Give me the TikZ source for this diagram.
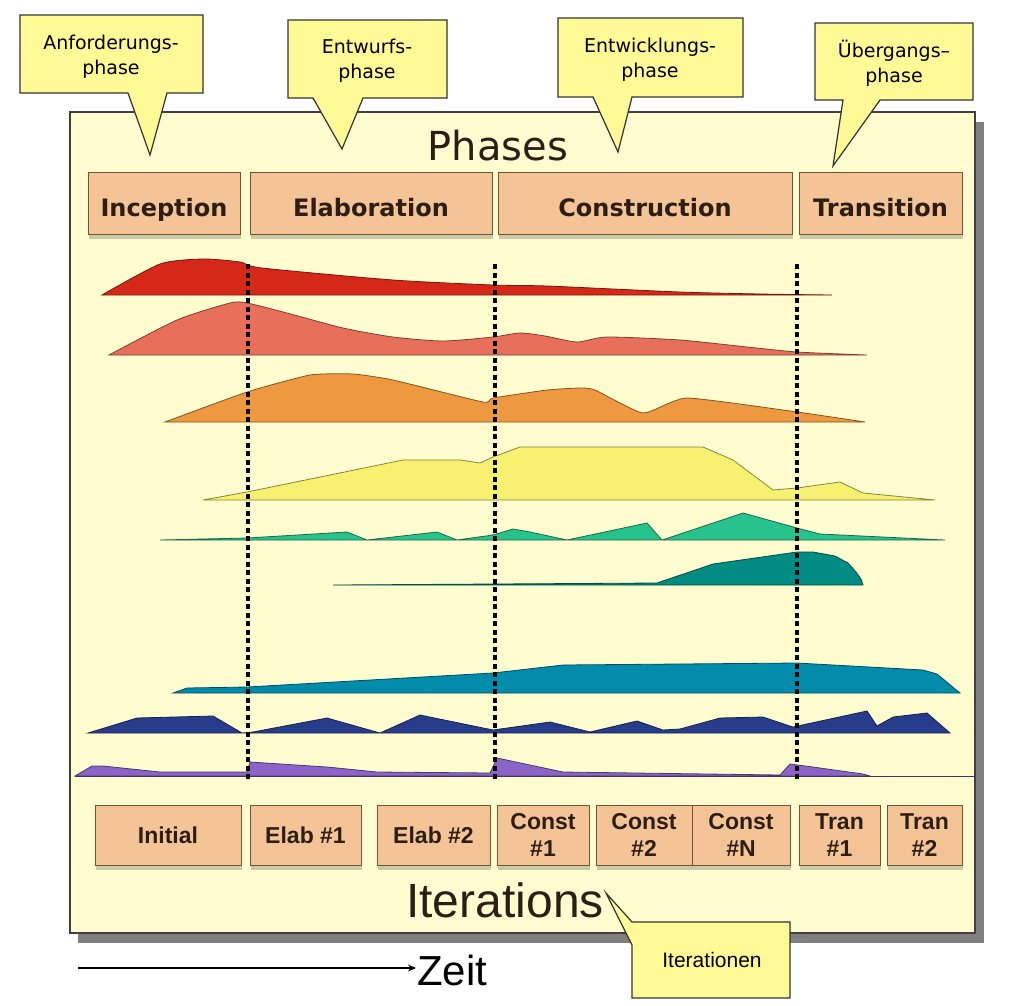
\documentclass[tikz,border=0pt]{standalone}
\usepackage{fontspec}
\setmainfont{DejaVu Sans}
\newfontfamily\libsans{Liberation Sans}
\usetikzlibrary{positioning,shadows,arrows.meta}

\definecolor{framefill}{RGB}{255,253,208}
\definecolor{callfill}{RGB}{255,250,150}
\definecolor{boxfill}{RGB}{244,196,150}
\definecolor{boxline}{RGB}{110,85,60}
\definecolor{textdark}{RGB}{45,30,20}
\definecolor{cRed}{RGB}{214,40,25}
\definecolor{cSalmon}{RGB}{232,112,90}
\definecolor{cOrange}{RGB}{238,152,64}
\definecolor{cYellow}{RGB}{248,240,112}
\definecolor{cGreen}{RGB}{40,195,140}
\definecolor{cTeal}{RGB}{0,140,130}
\definecolor{cCerulean}{RGB}{0,140,170}
\definecolor{cNavy}{RGB}{40,60,140}
\definecolor{cPurple}{RGB}{140,100,200}

\tikzset{
  phasebox/.style={draw=boxline, fill=boxfill, line width=1pt,
    minimum height=62pt, inner sep=0pt, outer sep=0pt, text=textdark,
    font=\fontsize{24}{28}\selectfont\bfseries,
    drop shadow={shadow xshift=1pt, shadow yshift=-5pt, fill=black, opacity=0.2}},
  phasetext/.style={text height=26pt, text depth=0pt},
  iterbox/.style={phasebox, minimum height=60pt, align=center,
    font=\libsans\fontsize{23}{27}\selectfont\bfseries},
  callbox/.style={draw=black!80, fill=callfill, line width=1.2pt, line join=miter},
  calltext/.style={align=center, font=\fontsize{19}{25}\selectfont},
  hump/.style={fill=#1, draw=#1!55!black, line width=0.8pt},
  phaseline/.style={line width=3.5pt, dash pattern=on 5pt off 3.5pt},
}

\begin{document}
\begin{tikzpicture}[x=1pt, y=-1pt]
  \useasboundingbox (0,0) rectangle (1019,1005);
  \fill[white] (0,0) rectangle (1019,1005);

  % frame with shadow
  \fill[black!50] (78,122) rectangle (984,943);
  \filldraw[fill=framefill, draw=black!75, line width=2pt] (70,112) rectangle (975,933);

  % workflow humps
  \filldraw[hump=cRed] plot[smooth, tension=0.4] coordinates {(102,295) (160,264) (203,259) (240,262) (262,268) (393,280) (493,285) (547,286) (680,292) (760,294) (832,295)} -- cycle;
  \filldraw[hump=cSalmon] plot[smooth, tension=0.4] coordinates {(109,355) (177,320) (230,303) (247,303) (287,313) (343,328) (393,337) (443,341) (493,337) (520,333) (545,336) (577,342) (607,337) (680,340) (747,347) (797,352) (867,355)} -- cycle;
  \filldraw[hump=cOrange] plot[smooth, tension=0.3] coordinates {(165,422) (247,392) (310,375) (353,374) (393,380) (483,402) (493,398) (547,390) (580,388) (595,390) (643,413) (687,398) (797,412) (865,422)} -- cycle;
  \filldraw[hump=cYellow] plot coordinates {(203,500) (247,492) (403,460) (460,460) (480,463) (493,457) (520,447) (703,447) (733,460) (773,490) (797,488) (840,482) (863,493) (935,500)} -- cycle;
  \filldraw[hump=cGreen] plot coordinates {(160,540) (247,538) (347,532) (367,540) (437,532) (457,540) (493,535) (513,529) (530,532) (567,540) (647,523) (662,540) (743,513) (797,528) (820,534) (945,540)} -- cycle;
  \filldraw[hump=cTeal] plot coordinates {(333,585) (657,583) (713,564) (797,552) (813,552) (835,556) (848,563) (856,572) (861,579) (863,585)} -- cycle;
  \filldraw[hump=cCerulean] plot coordinates {(173,693) (187,688) (247,687) (493,673) (563,665) (797,663) (923,670) (937,674) (960,693)} -- cycle;
  \filldraw[hump=cNavy] plot coordinates {(88,733) (137,718) (213,716) (242,733) (253,732) (327,718) (380,733) (420,715) (493,730) (550,722) (590,732) (637,721) (663,730) (680,729) (720,718) (763,717) (793,727) (867,711) (877,726) (893,717) (927,713) (950,733)} -- cycle;
  \filldraw[hump=cPurple] plot coordinates {(75,776) (92,766) (103,766) (160,772) (247,772) (250,762) (327,767) (377,772) (490,773) (497,758) (563,772) (780,775) (790,764) (813,767) (863,774) (870,776)} -- cycle;
  \draw[cPurple!50!black, line width=0.8pt] (75,776) -- (975,776);

  % phase borders
  \foreach \px in {248,495,797}
    \draw[phaseline] (\px,264) -- (\px,780);

  % titles
  \node[font=\fontsize{40}{44}\selectfont, text=textdark] (phases) at (498,146) {Phases};
  \node[font=\libsans\fontsize{48}{52}\selectfont, text=textdark] (iters) at (505,900) {Iterations};

  % phases
  \node[phasebox, phasetext, minimum width=152pt] (inc) at (164,203) {Inception};
  \node[phasebox, phasetext, minimum width=242pt, right=10pt of inc] (elab) {Elaboration};
  \node[phasebox, phasetext, minimum width=294pt, right=6pt of elab] (cons) {Construction};
  \node[phasebox, phasetext, minimum width=163pt, right=7pt of cons] (tran) {Transition};

  % iterations
  \node[iterbox, minimum width=146pt] (init) at (168,835) {Initial};
  \node[iterbox, minimum width=111pt, right=9pt of init] (el1) {Elab \#1};
  \node[iterbox, minimum width=113pt, right=16pt of el1] (el2) {Elab \#2};
  \node[iterbox, minimum width=92pt, right=7pt of el2] (co1) {Const\\\#1};
  \node[iterbox, minimum width=96pt, right=7pt of co1] (co2) {Const\\\#2};
  \node[iterbox, minimum width=98pt, right=0pt of co2] (coN) {Const\\\#N};
  \node[iterbox, minimum width=81pt, right=9pt of coN] (tr1) {Tran\\\#1};
  \node[iterbox, minimum width=75pt, right=7pt of tr1] (tr2) {Tran\\\#2};

  % callouts
  \draw[callbox] (20,15) -- (203,15) -- (203,93) -- (167,93) -- (150,155) -- (128,93) -- (20,93) -- cycle;
  \node[calltext] (anf) at (111,57) {Anforderungs-\\phase};
  \draw[callbox] (288,20) -- (447,20) -- (447,98) -- (363,98) -- (342,149) -- (313,98) -- (288,98) -- cycle;
  \node[calltext] (entw) at (367,61) {Entwurfs-\\phase};
  \draw[callbox] (558,18) -- (743,18) -- (743,97) -- (632,97) -- (618,152) -- (593,97) -- (558,97) -- cycle;
  \node[calltext] (entk) at (650,60) {Entwicklungs-\\phase};
  \draw[callbox] (815,23) -- (973,23) -- (973,100) -- (880,100) -- (833,166) -- (843,100) -- (815,100) -- cycle;
  \node[calltext] (ueb) at (894,63) {Übergangs–\\phase};
  \draw[callbox] (632,922) -- (790,922) -- (790,998) -- (632,998) -- (632,945) -- (606,893) -- cycle;
  \node[font=\libsans\fontsize{21}{24}\selectfont] (itn) at (712,960) {Iterationen};

  % time axis
  \coordinate (t0) at (78,968);
  \node[font=\libsans\fontsize{42}{46}\selectfont, anchor=west, inner sep=1pt] (zeit) at (416,970) {Zeit};
  \draw[line width=1.5pt, -{Stealth[length=8pt, width=7pt]}] (t0) -- (zeit.west |- t0);
\end{tikzpicture}
\end{document}
